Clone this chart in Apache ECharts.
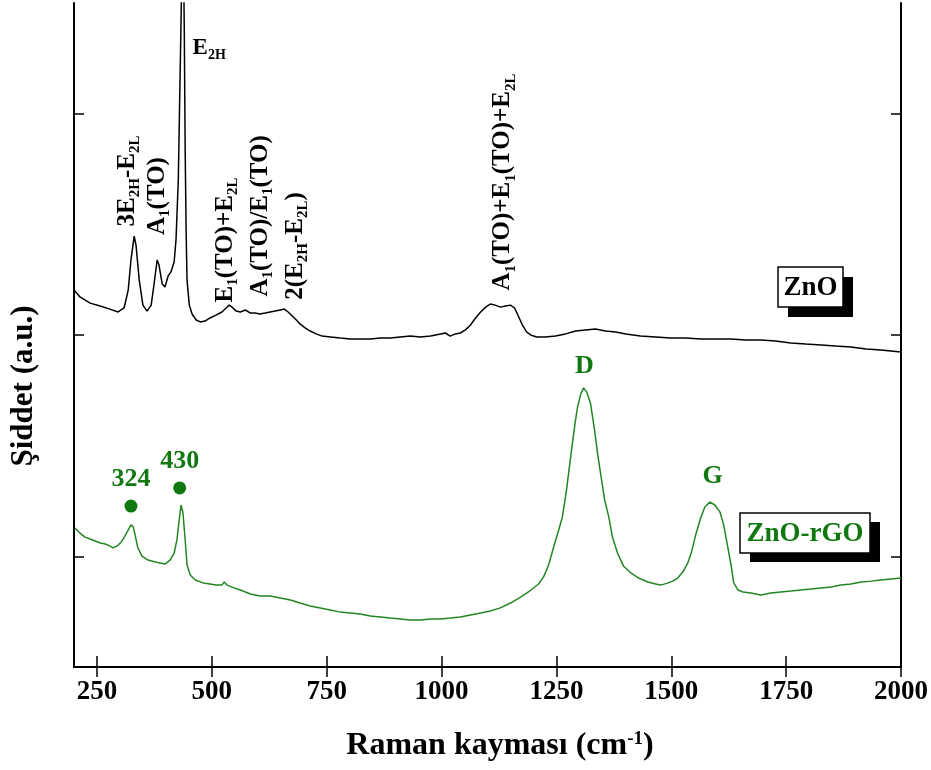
<!DOCTYPE html>
<html>
<head>
<meta charset="utf-8">
<script src="https://cdn.jsdelivr.net/npm/echarts@6/dist/echarts.min.js"></script>
<style>
  html, body { margin: 0; padding: 0; background: #ffffff; }
  #chart { width: 931px; height: 770px; }
</style>
</head>
<body>
<div id="chart"></div>
<script>
const FONT = '"Liberation Serif", "Times New Roman", serif';
const GREEN = '#0f780f';
const LINE_GREEN = '#238523';

// Axis ticks
const xTicks = [250, 500, 750, 1000, 1250, 1500, 1750, 2000];
const yTicks = [50, 150, 250];

// ZnO Raman spectrum (wavenumber cm-1 / intensity a.u., offset trace)
const znoWave = [200, 213, 235, 257, 278, 296, 309, 318, 324, 331, 335, 342, 350, 359, 368, 374, 381, 385, 392, 398,
  405, 411, 418, 422, 427, 430, 433, 437, 440, 442, 444, 446, 451, 457, 466, 475, 485, 496, 509, 522,
  531, 538, 544, 553, 562, 573, 584, 594, 605, 616, 627, 638, 649, 658, 666, 675, 684, 692, 703, 714,
  727, 740, 758, 780, 801, 823, 845, 867, 889, 910, 932, 954, 976, 998, 1008, 1019, 1030, 1041, 1052, 1063,
  1074, 1085, 1096, 1106, 1117, 1128, 1139, 1150, 1159, 1167, 1176, 1185, 1194, 1207, 1226, 1248, 1270, 1292, 1313, 1335,
  1357, 1379, 1401, 1433, 1466, 1499, 1531, 1564, 1597, 1629, 1662, 1695, 1727, 1760, 1793, 1826, 1858, 1891, 1924, 1956, 2000];
const znoInt = [170.3, 167.2, 164.4, 163.1, 161.7, 160.4, 162.2, 170.3, 183.9, 194.7, 190.6, 174.8, 163.5, 160.8, 163.5, 172.6, 183.9, 181.6, 173.0, 171.7,
  176.7, 178.5, 183.0, 192.9, 220.0, 256.0, 292.0, 346.0, 288.0, 233.6, 197.4, 174.8, 163.5, 159.5, 156.8, 155.9, 156.3, 157.7, 159.0, 160.4,
  162.2, 163.5, 162.6, 160.8, 160.4, 161.3, 159.9, 159.9, 159.5, 159.9, 160.4, 160.8, 161.3, 161.7, 160.4, 158.6, 156.8, 155.0, 153.2, 151.8,
  150.5, 149.5, 149.1, 148.6, 148.2, 148.2, 148.2, 148.6, 148.6, 149.1, 149.5, 149.1, 149.5, 150.5, 150.9, 149.5, 150.5, 150.9, 152.3, 154.5,
  157.7, 160.4, 162.6, 164.0, 163.5, 162.6, 163.1, 163.5, 162.2, 158.6, 154.5, 151.4, 150.0, 149.1, 149.1, 149.5, 150.5, 151.8, 152.3, 152.7,
  151.8, 151.4, 150.5, 149.5, 149.1, 148.6, 148.6, 148.2, 148.2, 148.2, 147.7, 147.7, 147.3, 146.4, 145.9, 145.5, 145.0, 144.6, 143.7, 143.2, 142.3];

// ZnO-rGO Raman spectrum
const rgoWave = [202, 213, 224, 235, 246, 257, 268, 278, 285, 294, 303, 311, 318, 324, 329, 333, 339, 348, 361, 377,
  387, 398, 409, 418, 424, 429, 433, 437, 442, 446, 453, 464, 481, 496, 509, 522, 527, 533, 544, 562,
  584, 605, 627, 649, 671, 692, 714, 736, 758, 780, 801, 823, 845, 867, 889, 910, 932, 954, 976, 998,
  1019, 1041, 1063, 1085, 1106, 1128, 1150, 1172, 1189, 1200, 1211, 1222, 1233, 1244, 1255, 1263, 1272, 1281, 1290, 1296,
  1303, 1309, 1316, 1324, 1333, 1340, 1346, 1355, 1364, 1372, 1383, 1396, 1412, 1429, 1449, 1466, 1477, 1492, 1503, 1514,
  1525, 1536, 1544, 1553, 1564, 1573, 1584, 1595, 1606, 1614, 1623, 1630, 1636, 1645, 1656, 1673, 1695, 1717, 1738, 1760,
  1782, 1804, 1826, 1848, 1869, 1891, 1913, 1935, 1956, 1978, 2000];
const rgoInt = [62.8, 60.5, 58.7, 57.8, 56.9, 56.0, 55.6, 54.7, 53.8, 54.7, 56.5, 59.2, 61.9, 64.2, 63.3, 59.6, 53.8, 50.1, 48.3, 47.4,
  47.0, 46.5, 48.3, 51.5, 57.4, 66.4, 73.2, 70.0, 57.4, 46.1, 41.6, 39.3, 38.0, 37.5, 37.0, 37.0, 38.4, 37.0, 36.1, 34.8,
  33.0, 32.1, 32.1, 31.2, 30.3, 28.9, 27.6, 26.7, 25.8, 24.8, 24.4, 23.9, 23.0, 22.6, 22.1, 21.7, 21.2, 21.2, 21.7, 21.7,
  22.1, 22.6, 23.5, 24.4, 25.3, 26.7, 28.9, 31.6, 33.9, 35.7, 37.5, 40.7, 46.1, 54.2, 61.9, 67.8, 80.0, 94.9, 109.3, 117.5,
  123.3, 126.1, 124.3, 119.3, 107.1, 95.8, 87.6, 75.5, 67.8, 58.7, 51.5, 45.6, 42.5, 40.2, 38.4, 37.5, 37.0, 37.9, 38.8, 40.2,
  42.9, 47.0, 52.0, 59.6, 67.3, 72.3, 74.5, 73.2, 70.0, 64.2, 54.2, 46.1, 38.0, 34.8, 33.9, 33.4, 32.5, 33.4, 33.9, 34.3,
  34.8, 35.2, 35.7, 36.1, 37.0, 37.5, 38.4, 38.8, 39.3, 39.8, 40.2];

// Phonon mode assignments on the ZnO trace
const modeTexts = [
  '{m|E}{s|2H}',
  '{m|3E}{s|2H}{m|-E}{s|2L}',
  '{m|A}{s|1}{m|(TO)}',
  '{m|E}{s|1}{m|(TO)+E}{s|2L}',
  '{m|A}{s|1}{m|(TO)/E}{s|1}{m|(TO)}',
  '{m|2(E}{s|2H}{m|-E}{s|2L}{m|)}',
  '{m|A}{s|1}{m|(TO)+E}{s|1}{m|(TO)+E}{s|2L}'
];
const modeWave = [458, 316, 381, 529, 605, 682, 1133];
const modeInt = [279.7, 219.6, 212.8, 192.9, 203.8, 190.2, 219.1];
const modeRotate = [0, 90, 90, 90, 90, 90, 90];

// Marked ZnO peaks on the composite trace
const peakWave = [324, 430];
const peakMarkInt = [72.7, 80.9];

// Carbon bands
const bandNames = ['D', 'G'];
const bandWave = [1311, 1590];
const bandLabelInt = [136.0, 86.3];

const zip = (xs, ys) => xs.map((x, i) => [x, ys[i]]);

const subRich = (size, subSize, color) => ({
  m: { fontSize: size, fontWeight: 'bold', fontFamily: FONT, color: color, verticalAlign: 'top', lineHeight: size },
  s: { fontSize: subSize, fontWeight: 'bold', fontFamily: FONT, color: color, verticalAlign: 'top', lineHeight: subSize, padding: [Math.round(size * 0.5), 0, 0, 0] }
});

const chart = echarts.init(document.getElementById('chart'), null, { renderer: 'canvas' });

const frameLine = { show: true, lineStyle: { color: '#000', width: 2 } };

const option = {
  animation: false,
  backgroundColor: '#ffffff',
  grid: { left: 74, right: 30, top: 3, bottom: 103, containLabel: false },
  xAxis: [
    {
      type: 'value', min: 200, max: 2000, position: 'bottom',
      axisLine: frameLine,
      axisTick: { show: true, inside: true, length: 11, customValues: xTicks, lineStyle: { color: '#000', width: 1.5 } },
      axisLabel: {
        show: true, customValues: xTicks, margin: 12, color: '#000', fontSize: 27, fontWeight: 'bold', fontFamily: FONT,
        formatter: (v) => String(v)
      },
      splitLine: { show: false }
    },
    {
      type: 'value', min: 200, max: 2000, position: 'top',
      axisLine: frameLine,
      axisTick: { show: true, inside: true, length: 10, customValues: xTicks, lineStyle: { color: '#000', width: 1.5 } },
      axisLabel: { show: false },
      splitLine: { show: false }
    }
  ],
  yAxis: [
    {
      type: 'value', min: 0, max: 300, position: 'left',
      axisLine: frameLine,
      axisTick: { show: true, inside: true, length: 10, customValues: yTicks, lineStyle: { color: '#000', width: 1.5 } },
      axisLabel: { show: false },
      splitLine: { show: false }
    },
    {
      type: 'value', min: 0, max: 300, position: 'right',
      axisLine: frameLine,
      axisTick: { show: true, inside: true, length: 10, customValues: yTicks, lineStyle: { color: '#000', width: 1.5 } },
      axisLabel: { show: false },
      splitLine: { show: false }
    }
  ],
  series: [
    {
      name: 'ZnO', type: 'line', data: zip(znoWave, znoInt),
      showSymbol: false, clip: true, smooth: false,
      lineStyle: { color: '#000', width: 1.5 }, z: 3
    },
    {
      name: 'ZnO-rGO', type: 'line', data: zip(rgoWave, rgoInt),
      showSymbol: false, clip: true, smooth: false,
      lineStyle: { color: LINE_GREEN, width: 1.5 }, z: 3
    },
    {
      name: 'modes', type: 'scatter', symbolSize: 0, silent: true, z: 5,
      itemStyle: { opacity: 1 },
      data: modeTexts.map((t, i) => ({
        value: [modeWave[i], modeInt[i]],
        label: {
          show: true, position: 'inside', formatter: t, rotate: modeRotate[i],
          align: modeRotate[i] ? 'center' : 'left', verticalAlign: 'middle',
          rich: modeRotate[i] ? subRich(25, 15, '#000') : subRich(23, 14, '#000')
        }
      }))
    },
    {
      name: 'peaks', type: 'scatter', symbol: 'circle', symbolSize: 13, silent: true, z: 5,
      itemStyle: { color: GREEN, opacity: 1 },
      data: zip(peakWave, peakMarkInt),
      label: {
        show: true, position: 'top', distance: 7, formatter: (p) => String(p.value[0]),
        color: GREEN, fontSize: 26, fontWeight: 'bold', fontFamily: FONT
      }
    },
    {
      name: 'bands', type: 'scatter', symbolSize: 0, silent: true, z: 5,
      itemStyle: { opacity: 1 },
      data: bandNames.map((n, i) => ({ value: [bandWave[i], bandLabelInt[i]], name: n })),
      label: {
        show: true, position: 'inside', formatter: (p) => p.name,
        color: GREEN, fontSize: 26, fontWeight: 'bold', fontFamily: FONT
      }
    }
  ],
  graphic: [
    // y-axis title
    {
      type: 'text', x: 24, y: 386, rotation: Math.PI / 2, z: 10,
      style: { text: 'Şiddet (a.u.)', fill: '#000', fontSize: 31, fontWeight: 'bold', fontFamily: FONT, align: 'center', verticalAlign: 'middle' }
    },
    // x-axis title with superscript
    {
      type: 'text', x: 500, y: 730, z: 10,
      style: {
        text: '{t|Raman kayması (cm}{p|-1}{t|)}', align: 'center', verticalAlign: 'top',
        rich: {
          t: { fontSize: 32, fontWeight: 'bold', fontFamily: FONT, fill: '#000', verticalAlign: 'top', lineHeight: 34 },
          p: { fontSize: 19, fontWeight: 'bold', fontFamily: FONT, fill: '#000', verticalAlign: 'top', lineHeight: 19 }
        }
      }
    },
    // sample tags with drop shadows
    { type: 'rect', shape: { x: 788, y: 277, width: 65, height: 40 }, style: { fill: '#000' }, z: 10 },
    { type: 'rect', shape: { x: 778, y: 267, width: 65, height: 40 }, style: { fill: '#fff', stroke: '#000', lineWidth: 1.5 }, z: 11 },
    {
      type: 'text', x: 810.5, y: 288, z: 12,
      style: { text: 'ZnO', fill: '#000', fontSize: 27, fontWeight: 'bold', fontFamily: FONT, align: 'center', verticalAlign: 'middle' }
    },
    { type: 'rect', shape: { x: 750, y: 522, width: 130, height: 40 }, style: { fill: '#000' }, z: 10 },
    { type: 'rect', shape: { x: 740, y: 513, width: 130, height: 40 }, style: { fill: '#fff', stroke: '#000', lineWidth: 1.5 }, z: 11 },
    {
      type: 'text', x: 805, y: 534, z: 12,
      style: { text: 'ZnO-rGO', fill: GREEN, fontSize: 27, fontWeight: 'bold', fontFamily: FONT, align: 'center', verticalAlign: 'middle' }
    }
  ]
};

chart.setOption(option);
</script>
</body>
</html>
